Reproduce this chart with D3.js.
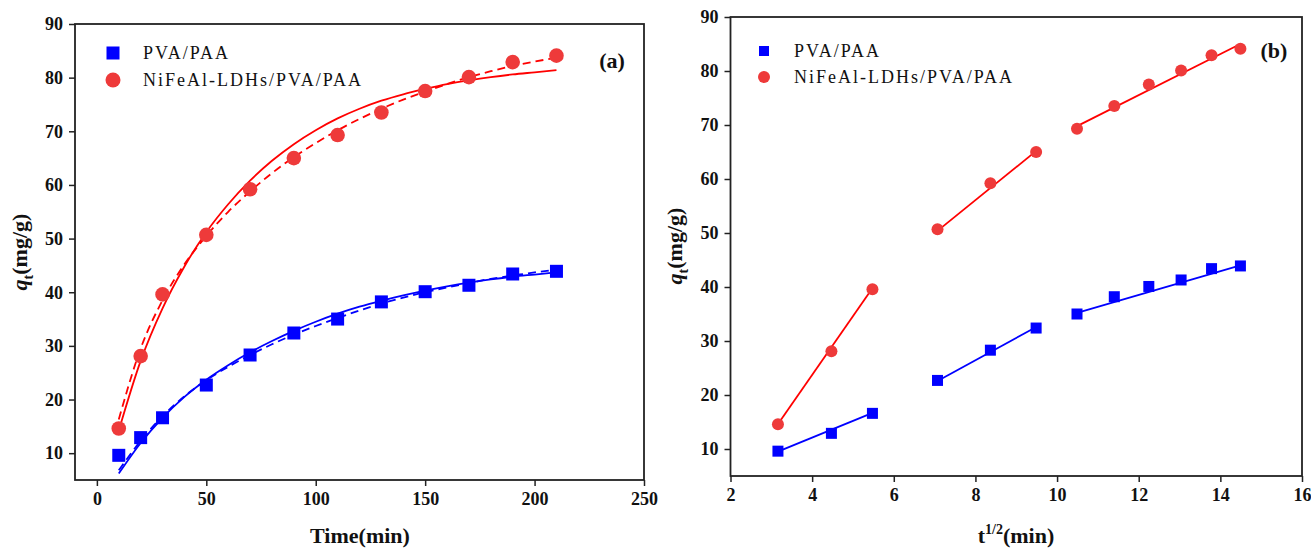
<!DOCTYPE html>
<html>
<head>
<meta charset="utf-8">
<script src="https://cdn.jsdelivr.net/npm/d3@7"></script>
<style>
  html, body { margin: 0; padding: 0; background: #fff; }
  svg { display: block; }
  .tick text { font-family: "Liberation Serif", "Times New Roman", serif; font-weight: bold; font-size: 18px; fill: #111; }
  .tick line { stroke: #222; stroke-width: 1.5; }
  .frame { fill: none; stroke: #222; stroke-width: 1.8; }
  .legend-text { font-family: "Liberation Serif", "Times New Roman", serif; font-size: 18px; letter-spacing: 2px; fill: #111; }
  .axis-title { font-family: "Liberation Serif", "Times New Roman", serif; font-weight: bold; font-size: 22px; fill: #111; }
  .panel-label { font-family: "Liberation Serif", "Times New Roman", serif; font-weight: bold; font-size: 22px; fill: #111; }
</style>
</head>
<body>
<svg id="chart" width="1311" height="551"></svg>
<script>
// Adsorption time (min) and uptake q_t (mg/g)
const timeMin = [10, 20, 30, 50, 70, 90, 110, 130, 150, 170, 190, 210];
const qtPvaPaa = [9.6, 12.9, 16.6, 22.7, 28.3, 32.4, 35.0, 38.2, 40.1, 41.3, 43.4, 43.9];
const qtLdh = [14.6, 28.1, 39.6, 50.7, 59.2, 65.0, 69.3, 73.5, 77.5, 80.1, 82.9, 84.1];

// Kinetic model curves sampled along time
const fitTime = [10, 20, 30, 40, 50, 60, 70, 80, 90, 100, 110, 120, 130, 140, 150, 160, 170, 180, 190, 200, 210];
const pfoPvaPaa = [6.2, 11.9, 16.6, 20.5, 23.7, 26.4, 28.8, 30.9, 32.8, 34.5, 36.0, 37.3, 38.4, 39.4, 40.3, 41.1, 41.8, 42.4, 42.9, 43.3, 43.7];
const psoPvaPaa = [6.8, 12.3, 16.9, 20.6, 23.6, 26.1, 28.3, 30.3, 32.1, 33.7, 35.2, 36.6, 37.9, 39.0, 40.0, 40.9, 41.7, 42.5, 43.1, 43.7, 44.2];
const pfoLdh = [14.2, 27.2, 37.0, 44.8, 51.2, 56.4, 60.8, 64.5, 67.6, 70.2, 72.4, 74.2, 75.7, 76.9, 77.9, 78.8, 79.5, 80.1, 80.6, 81.0, 81.4];
const psoLdh = [16.3, 29.5, 38.5, 45.2, 50.5, 55.0, 58.8, 62.2, 65.2, 67.8, 70.2, 72.3, 74.2, 75.9, 77.4, 78.8, 80.1, 81.2, 82.2, 83.0, 83.7];

// Intraparticle diffusion: three linear stages (start/end of each stage)
const stageSqrtT = [[3.16, 5.48], [7.07, 9.49], [10.49, 14.49]];
const stagePvaPaa = [[9.5, 16.7], [22.6, 32.6], [35.2, 44.0]];
const stageLdh = [[14.6, 39.8], [50.4, 65.2], [69.8, 85.0]];

// Axis ticks
const ticksTimeA = [0, 50, 100, 150, 200, 250];
const ticksSqrtB = [2, 4, 6, 8, 10, 12, 14, 16];
const ticksQ = [10, 20, 30, 40, 50, 60, 70, 80, 90];

const seriesNames = ["PVA/PAA", "NiFeAl-LDHs/PVA/PAA"];
const BLUE = "#0000ff", RED = "#ff0000", RED_FILL = "#ee3a3a";

const svg = d3.select("#chart");

function drawPanel(opt) {
  const g = svg.append("g");
  const x = d3.scaleLinear().domain(opt.xDomain).range([opt.left, opt.right]);
  const y = d3.scaleLinear().domain([5, 90]).range([opt.bottom, opt.top]);

  const xAxis = g.append("g").attr("transform", `translate(0,${opt.bottom})`)
    .call(d3.axisBottom(x).tickValues(opt.xTicks).tickSize(6).tickPadding(6).tickFormat(d3.format("d")));
  xAxis.select(".domain").remove();

  const yAxis = g.append("g").attr("transform", `translate(${opt.left},0)`)
    .call(d3.axisLeft(y).tickValues(ticksQ).tickSize(6).tickPadding(6).tickFormat(d3.format("d")));
  yAxis.select(".domain").remove();

  g.append("rect").attr("class", "frame")
    .attr("x", opt.left).attr("y", opt.top)
    .attr("width", opt.right - opt.left).attr("height", opt.bottom - opt.top);

  return { g, x, y };
}

// ---------- Panel (a): kinetics ----------
const A = drawPanel({ left: 75, right: 644, top: 24, bottom: 480, xDomain: [-10, 250], xTicks: ticksTimeA });
const lineA = d3.line().x(d => A.x(d[0])).y(d => A.y(d[1])).curve(d3.curveMonotoneX);

const curvesA = [
  { v: pfoLdh, c: RED, dash: null },
  { v: psoLdh, c: RED, dash: "8,5" },
  { v: pfoPvaPaa, c: BLUE, dash: null },
  { v: psoPvaPaa, c: BLUE, dash: "8,5" }
];
curvesA.forEach(cv => {
  A.g.append("path")
    .attr("d", lineA(fitTime.map((t, i) => [t, cv.v[i]])))
    .attr("fill", "none").attr("stroke", cv.c).attr("stroke-width", 1.8)
    .attr("stroke-dasharray", cv.dash);
});

A.g.selectAll(".sqA").data(timeMin).enter().append("rect")
  .attr("x", (t) => A.x(t) - 6.5).attr("y", (t, i) => A.y(qtPvaPaa[i]) - 6.5)
  .attr("width", 13).attr("height", 13).attr("fill", BLUE);
A.g.selectAll(".ciA").data(timeMin).enter().append("circle")
  .attr("cx", t => A.x(t)).attr("cy", (t, i) => A.y(qtLdh[i]))
  .attr("r", 7.3).attr("fill", RED_FILL);

// ---------- Panel (b): intraparticle diffusion ----------
const B = drawPanel({ left: 730.5, right: 1302, top: 17, bottom: 476, xDomain: [2, 16], xTicks: ticksSqrtB });
const lineB = d3.line().x(d => B.x(d[0])).y(d => B.y(d[1]));

stageSqrtT.forEach((xs, k) => {
  B.g.append("path").attr("d", lineB([[xs[0], stagePvaPaa[k][0]], [xs[1], stagePvaPaa[k][1]]]))
    .attr("fill", "none").attr("stroke", BLUE).attr("stroke-width", 1.8);
  B.g.append("path").attr("d", lineB([[xs[0], stageLdh[k][0]], [xs[1], stageLdh[k][1]]]))
    .attr("fill", "none").attr("stroke", RED).attr("stroke-width", 1.8);
});

B.g.selectAll(".sqB").data(timeMin).enter().append("rect")
  .attr("x", t => B.x(Math.sqrt(t)) - 5.5).attr("y", (t, i) => B.y(qtPvaPaa[i]) - 5.5)
  .attr("width", 11).attr("height", 11).attr("fill", BLUE);
B.g.selectAll(".ciB").data(timeMin).enter().append("circle")
  .attr("cx", t => B.x(Math.sqrt(t))).attr("cy", (t, i) => B.y(qtLdh[i]))
  .attr("r", 6).attr("fill", RED_FILL);

// ---------- Legends ----------
function legend(x0, y0, gap, sq, r) {
  const lg = svg.append("g");
  lg.append("rect").attr("x", x0 - sq / 2).attr("y", y0 - sq / 2).attr("width", sq).attr("height", sq).attr("fill", BLUE);
  lg.append("circle").attr("cx", x0).attr("cy", y0 + gap).attr("r", r).attr("fill", RED_FILL);
  seriesNames.forEach((s, i) => {
    lg.append("text").attr("class", "legend-text")
      .attr("x", x0 + 30).attr("y", y0 + i * gap).attr("dy", "0.35em").text(s);
  });
}
legend(113, 53, 27, 13, 7.5);
legend(764, 51, 26, 10, 6);

svg.append("text").attr("class", "panel-label").attr("x", 612).attr("y", 60)
  .attr("text-anchor", "middle").attr("dy", "0.35em").text("(a)");
svg.append("text").attr("class", "panel-label").attr("x", 1274).attr("y", 50)
  .attr("text-anchor", "middle").attr("dy", "0.35em").text("(b)");

// ---------- Axis titles ----------
svg.append("text").attr("class", "axis-title").attr("x", 360).attr("y", 543)
  .attr("text-anchor", "middle").text("Time(min)");

const tB = svg.append("text").attr("class", "axis-title").attr("x", 1016).attr("y", 543).attr("text-anchor", "middle");
tB.append("tspan").text("t");
tB.append("tspan").attr("dy", -9).attr("font-size", "14px").text("1/2");
tB.append("tspan").attr("dy", 9).text("(min)");

function yTitle(cx, cy) {
  const t = svg.append("text").attr("class", "axis-title")
    .attr("transform", `translate(${cx},${cy}) rotate(-90)`)
    .attr("text-anchor", "middle");
  t.append("tspan").attr("font-style", "italic").text("q");
  t.append("tspan").attr("dy", 6).attr("font-size", "14px").text("t");
  t.append("tspan").attr("dy", -6).text("(mg/g)");
}
yTitle(27, 252);
yTitle(682, 246);
</script>
</body>
</html>
